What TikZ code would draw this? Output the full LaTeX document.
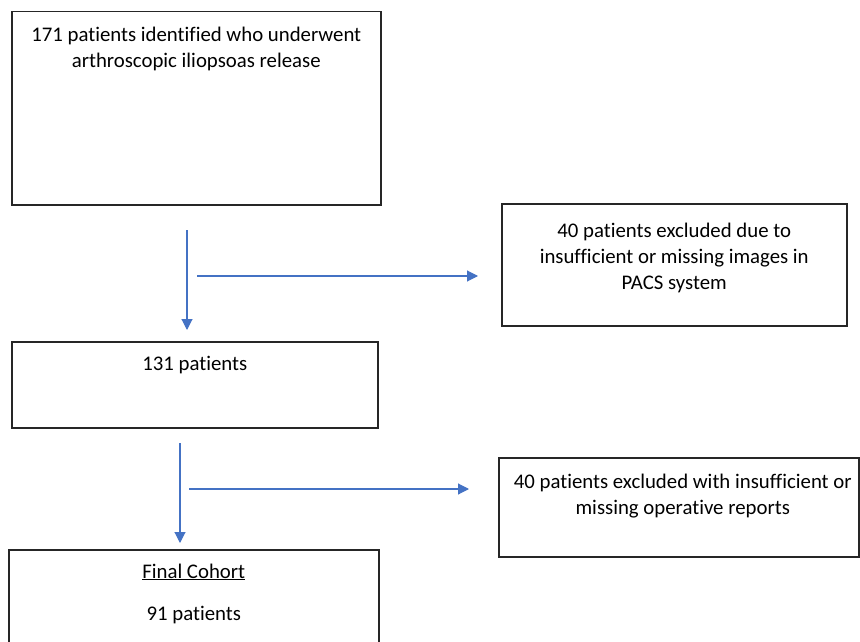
\documentclass[tikz,border=0pt]{standalone}
\usepackage{fontspec}
\setmainfont{Carlito}[Ligatures=NoCommon]
\usetikzlibrary{arrows.meta,positioning}
\definecolor{flowblue}{RGB}{68,114,196}

\begin{document}
\begin{tikzpicture}[x=1pt,y=-1pt,
		box/.style={draw=black!85, line width=1.5pt, rectangle, inner sep=0pt, anchor=north west},
		txt/.style={align=center, inner sep=0pt, anchor=north, font=\fontsize{20.8}{26}\selectfont},
		flow/.style={draw=flowblue, line width=1.1pt, -{Triangle[length=11pt,width=11pt]}}]
	\useasboundingbox (0,0) rectangle (860,642);
	\clip (0,0) rectangle (860,642);
	
	% boxes
	\node[box, minimum width=369pt, minimum height=193pt] (identified) at (11,11) {};
	\node[box, minimum width=345pt, minimum height=122pt] (excl-pacs) at (501,203) {};
	\node[box, minimum width=366pt, minimum height=86pt] (remaining) at (11,341) {};
	\node[box, minimum width=360pt, minimum height=99pt] (excl-reports) at (498,457) {};
	\node[box, minimum width=370pt, minimum height=111pt] (cohort) at (8,549) {};
	
	% texts
	\node[txt, below=15.5pt of identified.north] (identified-txt) {171 patients identified who underwent\\arthroscopic iliopsoas release};
	\node[txt, below=19.5pt of excl-pacs.north] (excl-pacs-txt) {40 patients excluded due to\\insufficient or missing images in\\PACS system};
	\node[txt, below=15pt of remaining.north] (remaining-txt) {131 patients};
	\node[txt, below=16.5pt of excl-reports.north, xshift=4pt] (excl-reports-txt) {40 patients excluded with insufficient or\\missing operative reports};
	\node[txt, below=14.5pt of cohort.north] (cohort-txt) {\underline{Final Cohort}\\[16pt]91 patients};
	
	% flow arrows
	\coordinate (fork1) at (187,230);
	\coordinate (split1) at (197,276);
	\draw[flow, shorten >=11pt] (fork1) -- (fork1 |- remaining.north);
	\draw[flow, shorten >=23pt] (split1) -- (split1 -| excl-pacs.west);
	
	\coordinate (fork2) at (180,443);
	\coordinate (split2) at (189,489);
	\draw[flow, shorten >=6pt] (fork2) -- (fork2 |- cohort.north);
	\draw[flow, shorten >=29pt] (split2) -- (split2 -| excl-reports.west);
\end{tikzpicture}
\end{document}
